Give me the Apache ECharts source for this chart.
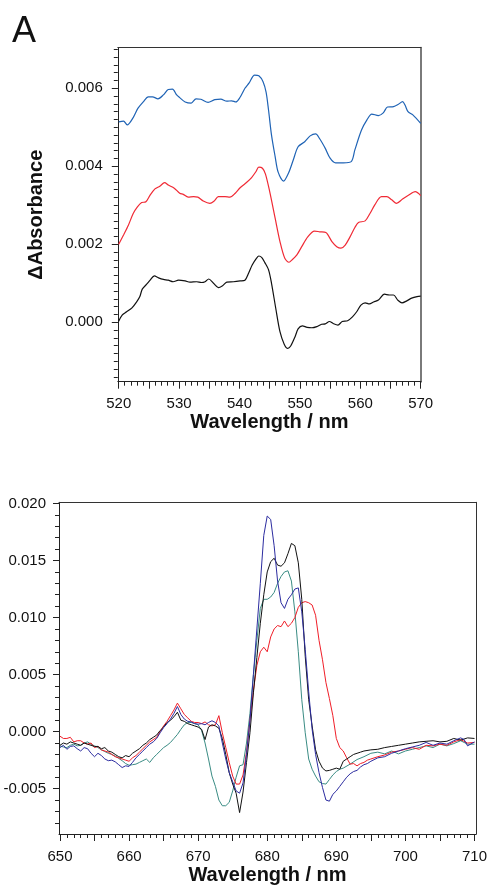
<!DOCTYPE html>
<html>
<head>
<meta charset="utf-8">
<script src="https://cdn.jsdelivr.net/npm/echarts@6/dist/echarts.min.js"></script>
<style>html,body{margin:0;padding:0;background:#fff}#c{width:490px;height:886px}</style>
</head>
<body>
<div id="c"></div>
<script>
// ---------- Panel A (top) data: [wavelength nm, ΔAbsorbance] ----------
const topBlue = [[520,0.00514],[520.8,0.00516],[521.4,0.00506],[522.4,0.00525],[523.2,0.00549],[524.1,0.00566],[524.9,0.00578],[525.6,0.00578],[526.5,0.00573],[527.4,0.00583],[528.2,0.00597],[528.9,0.00598],[529.6,0.00583],[530.1,0.00576],[531,0.00565],[532,0.00562],[532.8,0.00573],[533.6,0.00572],[534.8,0.00564],[535.9,0.00571],[536.9,0.00572],[537.9,0.00567],[538.7,0.00568],[539.4,0.00565],[540.1,0.00577],[540.9,0.00600],[541.6,0.00614],[542.5,0.00634],[543.2,0.00632],[543.9,0.00617],[544.4,0.00590],[544.8,0.00545],[545.3,0.00480],[545.9,0.00425],[546.4,0.00385],[547.3,0.00362],[548.1,0.00382],[548.9,0.00416],[549.7,0.00450],[550.8,0.00463],[551.7,0.00478],[552.6,0.00483],[553.3,0.00470],[554.2,0.00446],[555.0,0.00421],[555.9,0.00409],[557.2,0.00409],[558.5,0.00412],[559.1,0.00442],[560.2,0.00493],[561.1,0.00519],[561.9,0.00534],[563.0,0.00530],[563.8,0.00537],[564.5,0.00552],[565.5,0.00553],[566.3,0.00559],[567.0,0.00566],[567.4,0.00557],[567.9,0.00540],[568.7,0.00532],[570,0.00510]];
const topRed = [[520,0.00200],[520.8,0.00224],[521.6,0.00249],[522.4,0.00279],[523.1,0.00296],[523.8,0.00307],[524.5,0.00309],[525.2,0.00326],[526.0,0.00342],[526.8,0.00349],[527.6,0.00358],[528.2,0.00352],[529.2,0.00344],[530.1,0.00331],[530.7,0.00328],[531.5,0.00321],[532.4,0.00322],[533.1,0.00321],[534.0,0.00311],[535.1,0.00305],[535.8,0.00311],[536.5,0.00322],[537.6,0.00322],[538.4,0.00321],[539.3,0.00331],[540.1,0.00345],[541.2,0.00359],[542.0,0.00371],[542.7,0.00386],[543.2,0.00398],[543.8,0.00395],[544.3,0.00380],[545.0,0.00335],[545.9,0.00267],[546.7,0.00207],[547.5,0.00164],[548.2,0.00154],[548.7,0.00160],[549.5,0.00173],[550.3,0.00194],[551.3,0.00219],[552.4,0.00234],[553.3,0.00232],[554.3,0.00230],[555.3,0.00207],[556.1,0.00194],[556.8,0.00190],[557.5,0.00198],[558.3,0.00219],[559.1,0.00243],[559.7,0.00256],[560.8,0.00260],[561.6,0.00279],[562.4,0.00301],[563.5,0.00322],[564.4,0.00322],[565.2,0.00314],[566.0,0.00305],[567.0,0.00316],[567.9,0.00325],[569.1,0.00335],[570,0.00325]];
const topBlack = [[520,0.00003],[520.6,0.00019],[521.3,0.00027],[522.2,0.00037],[523.0,0.00053],[523.5,0.00066],[523.9,0.00085],[524.6,0.00097],[525.2,0.00108],[525.9,0.00119],[526.6,0.00114],[527.4,0.00110],[528.2,0.00108],[529.0,0.00104],[529.9,0.00108],[531.0,0.00106],[531.8,0.00103],[532.9,0.00104],[533.7,0.00102],[534.3,0.00104],[534.9,0.00111],[535.7,0.00100],[536.5,0.00089],[537.2,0.00094],[537.9,0.00103],[539.0,0.00104],[540.1,0.00106],[540.9,0.00108],[541.5,0.00126],[542.1,0.00147],[542.8,0.00164],[543.2,0.00170],[543.7,0.00166],[544.2,0.00153],[544.8,0.00135],[545.3,0.00100],[546.0,0.00036],[546.7,-0.00024],[547.4,-0.00056],[548.0,-0.00067],[548.5,-0.00060],[549.2,-0.00037],[549.7,-0.00017],[550.4,-0.00009],[551.2,-0.00013],[552.0,-0.00014],[552.8,-0.00011],[553.6,-0.00005],[554.2,-0.00004],[554.9,0.00002],[555.5,-0.00003],[556.3,-0.00007],[557.0,0.00002],[557.9,0.00004],[558.7,0.00014],[559.4,0.00027],[560.1,0.00044],[560.8,0.00050],[561.5,0.00047],[562.2,0.00052],[563.0,0.00057],[564.0,0.00072],[564.8,0.00070],[565.5,0.00070],[566.2,0.00057],[566.9,0.00050],[567.7,0.00055],[568.5,0.00062],[569.4,0.00066],[570,0.00067]];

// ---------- Bottom panel data: [wavelength nm, ΔA in units of 1e-3] ----------
const botScale = 1e-3;
const botBlack = [[650,-1.2],[650.5,-1.0],[651,-1.1],[651.5,-0.9],[652,-1.0],[652.5,-1.1],[653,-1.2],[653.5,-1.0],[654,-1.1],[654.5,-1.2],[655,-1.3],[655.5,-1.3],[656,-1.5],[656.5,-1.4],[657,-1.7],[657.5,-1.8],[658,-2.0],[658.5,-2.2],[659,-2.3],[659.5,-2.1],[660,-2.2],[660.5,-1.9],[661,-1.7],[661.5,-1.5],[662,-1.2],[662.5,-1.0],[663,-0.7],[663.5,-0.5],[664,-0.3],[664.5,0.1],[665,0.4],[665.5,0.8],[666,1.0],[666.5,1.3],[667,1.7],[667.5,1.0],[668,0.9],[668.5,0.7],[669,0.6],[669.5,0.5],[670,0.4],[670.5,0.2],[671,-0.7],[671.5,0.4],[672,0.6],[672.5,0.5],[673,0.3],[673.5,-0.6],[674,-2.0],[674.5,-3.6],[675,-4.6],[675.5,-5.4],[676,-7.1],[676.5,-5.3],[677,-2.7],[677.5,-0.1],[678,3.4],[678.5,6.5],[679,9.5],[679.5,12.0],[680,14.0],[680.5,14.9],[681,15.2],[681.5,14.6],[682,14.5],[682.5,14.8],[683,15.6],[683.5,16.5],[684,16.3],[684.5,14.8],[685,11.6],[685.5,6.6],[686,2.8],[686.5,0.5],[687,-1.6],[687.5,-2.6],[688,-3.2],[688.5,-3.45],[689,-3.4],[689.5,-3.3],[690,-3.2],[690.5,-3.3],[691,-2.6],[691.5,-2.4],[692,-2.2],[692.5,-2.0],[693,-1.9],[693.5,-1.8],[694,-1.7],[695,-1.6],[696,-1.55],[697,-1.4],[698,-1.3],[699,-1.2],[700,-1.1],[701,-1.0],[702,-0.9],[703,-0.85],[704,-0.8],[705,-0.9],[706,-0.85],[707,-0.6],[708,-0.75],[709,-0.55],[710,-0.6]];
const botRed = [[650,-0.4],[650.5,-0.6],[651,-0.6],[651.5,-0.5],[652,-0.9],[652.5,-0.8],[653,-0.8],[653.5,-1.0],[654,-1.1],[654.5,-1.0],[655,-1.4],[655.5,-1.3],[656,-1.6],[656.5,-1.7],[657,-1.8],[657.5,-2.0],[658,-2.2],[658.5,-2.3],[659,-2.4],[659.5,-2.5],[660,-2.6],[660.5,-2.3],[661,-2.1],[661.5,-1.8],[662,-1.5],[662.5,-1.2],[663,-0.9],[663.5,-0.7],[664,-0.5],[664.5,0.0],[665,0.5],[665.5,0.9],[666,1.4],[666.5,1.9],[667,2.5],[667.5,2.0],[668,1.5],[668.5,1.2],[669,0.9],[669.5,0.8],[670,0.8],[670.5,0.7],[671,0.85],[671.5,0.6],[672,0.5],[672.5,0.6],[673,1.4],[673.5,-0.1],[674,-1.4],[674.5,-2.7],[675,-3.9],[675.5,-4.6],[676,-4.6],[676.5,-3.8],[677,-1.8],[677.5,1.0],[678,3.6],[678.5,5.8],[679,7.0],[679.5,7.4],[680,7.0],[680.5,8.3],[681,9.0],[681.5,9.3],[682,9.2],[682.5,9.7],[683,9.2],[683.5,9.5],[684,10.0],[684.5,10.9],[685,11.3],[685.5,11.4],[686,11.3],[686.5,11.1],[687,10.2],[687.5,8.0],[688,6.3],[688.5,4.3],[689,2.9],[689.5,1.4],[690,-0.6],[690.5,-1.4],[691,-1.7],[691.5,-2.3],[692,-2.85],[692.5,-2.8],[693,-3.0],[693.5,-2.8],[694,-2.7],[694.5,-2.5],[695,-2.4],[696,-2.2],[697,-2.05],[698,-1.8],[699,-1.7],[700,-1.55],[701,-1.4],[702,-1.55],[703,-1.2],[704,-1.25],[705,-1.1],[706,-1.2],[707,-0.9],[708,-0.7],[709,-1.0],[710,-0.95]];
const botNavy = [[650,-1.4],[650.5,-1.2],[651,-1.55],[651.5,-1.3],[652,-1.25],[652.5,-1.5],[653,-1.7],[653.5,-1.4],[654,-1.5],[654.5,-1.9],[655,-2.2],[655.5,-1.9],[656,-2.1],[656.5,-2.4],[657,-2.55],[657.5,-2.5],[658,-2.65],[658.5,-2.9],[659,-3.15],[659.5,-3.0],[660,-3.05],[660.5,-2.7],[661,-2.3],[661.5,-2.0],[662,-1.7],[662.5,-1.4],[663,-1.1],[663.5,-0.9],[664,-0.6],[664.5,-0.1],[665,0.35],[665.5,0.7],[666,1.1],[666.5,1.6],[667,2.2],[667.5,1.5],[668,1.1],[668.5,0.9],[669,0.85],[669.5,0.7],[670,0.65],[670.5,0.7],[671,0.6],[671.5,0.8],[672,0.95],[672.5,0.8],[673,0.5],[673.5,-1.0],[674,-2.4],[674.5,-3.6],[675,-4.4],[675.5,-5.2],[676,-5.4],[676.5,-4.5],[677,-2.0],[677.5,1.0],[678,5.0],[678.5,9.0],[679,13.0],[679.5,17.2],[680,18.9],[680.5,18.6],[681,16.3],[681.5,13.2],[682,11.3],[682.5,10.8],[683,11.6],[683.5,12.0],[684,12.5],[684.5,12.6],[685,10.5],[685.5,7.2],[686,3.5],[686.5,0.2],[687,-2.0],[687.5,-3.6],[688,-4.9],[688.5,-6.0],[689,-6.1],[689.5,-5.5],[690,-5.2],[690.5,-4.8],[691,-4.4],[691.5,-4.0],[692,-3.7],[692.5,-3.5],[693,-3.4],[693.5,-3.1],[694,-2.9],[694.5,-2.8],[695,-2.6],[696,-2.3],[697,-2.2],[698,-1.9],[699,-1.7],[700,-1.5],[701,-1.35],[702,-1.2],[703,-0.95],[704,-1.2],[705,-1.0],[706,-1.1],[707,-0.8],[708,-0.55],[708.5,-0.7],[709,-1.25],[710,-0.9]];
const botTeal = [[650,-1.25],[650.5,-1.35],[651,-1.4],[651.5,-1.2],[652,-1.1],[652.5,-1.25],[653,-1.2],[653.5,-1.0],[654,-0.9],[654.5,-1.1],[655,-1.25],[655.5,-1.4],[656,-1.6],[656.5,-1.75],[657,-1.9],[657.5,-2.0],[658,-2.15],[658.5,-2.35],[659,-2.55],[659.5,-2.8],[660,-2.95],[660.5,-2.9],[661,-2.85],[661.5,-2.7],[662,-2.55],[662.5,-2.4],[663,-2.7],[663.5,-2.3],[664,-2.0],[664.5,-1.7],[665,-1.4],[665.5,-1.2],[666,-0.95],[666.5,-0.6],[667,-0.25],[667.5,0.2],[668,0.6],[668.5,0.8],[669,0.8],[669.5,0.7],[670,0.6],[670.5,0.1],[671,-1.0],[671.5,-2.4],[672,-3.9],[672.5,-4.8],[673,-6.0],[673.5,-6.5],[674,-6.5],[674.5,-6.2],[675,-5.2],[675.5,-4.0],[676,-3.0],[676.5,-2.9],[677,-1.0],[677.5,1.6],[678,5.0],[678.5,8.0],[679,10.8],[679.5,11.6],[680,11.6],[680.5,11.8],[681,12.2],[681.5,13.0],[682,13.6],[682.5,14.0],[683,14.1],[683.5,13.2],[684,10.5],[684.5,7.0],[685,2.8],[685.5,-0.1],[686,-2.4],[686.5,-3.3],[687,-3.9],[687.5,-4.4],[688,-4.55],[688.5,-4.6],[689,-4.2],[689.5,-3.8],[690,-3.5],[690.5,-3.3],[691,-3.2],[692,-2.85],[693,-2.45],[694,-2.2],[695,-1.9],[696,-1.8],[697,-1.95],[698,-1.7],[699,-1.95],[700,-1.7],[701,-1.55],[702,-1.4],[703,-1.25],[704,-1.4],[705,-1.1],[706,-1.25],[707,-1.05],[708,-0.8],[709,-1.1],[710,-1.1]];

// ---------- Tick labels ----------
const topXLabels = [520, 530, 540, 550, 560, 570];
const topYLabels = [0, 0.002, 0.004, 0.006];
const botXLabels = [650, 660, 670, 680, 690, 700, 710];
const botYLabels = [-0.005, 0, 0.005, 0.010, 0.015, 0.020];

function steps(a, b, s, d) { const out = []; for (let v = a; v <= b + s / 1000; v += s) out.push(+v.toFixed(d)); return out; }

const FONT = '"Liberation Sans", Arial, sans-serif';
const AX = '#222';

function xAxes(grid, min, max, labels, minor, major) {
  return [
    { gridIndex: grid, type: 'value', min, max, position: 'bottom',
      axisLine: { onZero: false, lineStyle: { color: AX, width: 1 } },
      axisTick: { customValues: major, length: 7, lineStyle: { color: AX } },
      axisLabel: { customValues: labels, fontSize: 15, color: '#111', fontFamily: FONT, margin: 15 },
      splitLine: { show: false },
      name: 'Wavelength / nm', nameLocation: 'middle', nameGap: 31,
      nameTextStyle: { fontSize: 20, fontWeight: 'bold', color: '#111', fontFamily: FONT } },
    { gridIndex: grid, type: 'value', min, max, position: 'bottom',
      axisLine: { show: false, onZero: false },
      axisTick: { customValues: minor, length: 4, lineStyle: { color: AX } },
      axisLabel: { show: false }, splitLine: { show: false } },
    { gridIndex: grid, type: 'value', min, max, position: 'top',
      axisLine: { onZero: false, lineStyle: { color: '#333', width: 1 } },
      axisTick: { show: false }, axisLabel: { show: false }, splitLine: { show: false } }
  ];
}
function yAxes(grid, min, max, labels, minor, name, rightColor, rightWidth, margin) {
  return [
    { gridIndex: grid, type: 'value', min, max, position: 'left',
      axisLine: { onZero: false, lineStyle: { color: AX, width: 1 } },
      axisTick: { customValues: labels, length: 6, lineStyle: { color: AX } },
      axisLabel: { customValues: labels, fontSize: 15, color: '#111', fontFamily: FONT, margin: margin,
                   formatter: v => (+v).toFixed(3) },
      splitLine: { show: false },
      name: name, nameLocation: 'middle', nameGap: 71,
      nameTextStyle: { fontSize: 20, fontWeight: 'bold', color: '#111', fontFamily: FONT } },
    { gridIndex: grid, type: 'value', min, max, position: 'left',
      axisLine: { show: false, onZero: false },
      axisTick: { customValues: minor, length: 4, lineStyle: { color: AX } },
      axisLabel: { show: false }, splitLine: { show: false } },
    { gridIndex: grid, type: 'value', min, max, position: 'right',
      axisLine: { onZero: false, lineStyle: { color: rightColor, width: rightWidth } },
      axisTick: { show: false }, axisLabel: { show: false }, splitLine: { show: false } }
  ];
}

function line(data, color, xi, yi, width, smooth, scale) {
  return { type: 'line', xAxisIndex: xi, yAxisIndex: yi, showSymbol: false, smooth: smooth,
           data: scale ? data.map(p => [p[0], p[1] * scale]) : data,
           lineStyle: { color, width }, itemStyle: { color }, animation: false };
}

const chart = echarts.init(document.getElementById('c'), null, { renderer: 'canvas' });
chart.setOption({
  backgroundColor: '#fff',
  animation: false,
  title: { text: 'A', left: 7, top: 9, textStyle: { fontSize: 36, fontWeight: 'normal', color: '#111', fontFamily: FONT } },
  grid: [
    { left: 117.8, right: 69, top: 47.7, bottom: 504.3, containLabel: false },
    { left: 59, right: 11.7, top: 502.3, bottom: 51, containLabel: false }
  ],
  xAxis: [
    ...xAxes(0, 519.85, 570.05, topXLabels, steps(520, 570, 1, 0), steps(520, 570, 5, 0)),
    ...xAxes(1, 649.86, 710.23, botXLabels, steps(650, 710, 1, 0), steps(650, 710, 5, 0))
  ],
  yAxis: [
    ...yAxes(0, -0.001523, 0.007041, topYLabels, steps(-0.0014, 0.007, 0.0002, 4), '\u0394Absorbance', '#7a7a7a', 2, 15),
    ...yAxes(1, -0.008977, 0.020105, botYLabels, steps(-0.008, 0.020, 0.001, 3), '', '#333', 1, 13)
  ],
  series: [
    line(topBlue, '#1f63b5', 0, 0, 1.2, 0.3),
    line(topRed, '#f02a35', 0, 0, 1.2, 0.3),
    line(topBlack, '#111111', 0, 0, 1.2, 0.3),
    line(botTeal, '#3a8c84', 3, 3, 1, false, botScale),
    line(botRed, '#f01e28', 3, 3, 1, false, botScale),
    line(botBlack, '#111111', 3, 3, 1, false, botScale),
    line(botNavy, '#2c2ca0', 3, 3, 1, false, botScale)
  ]
});
</script>
</body>
</html>
